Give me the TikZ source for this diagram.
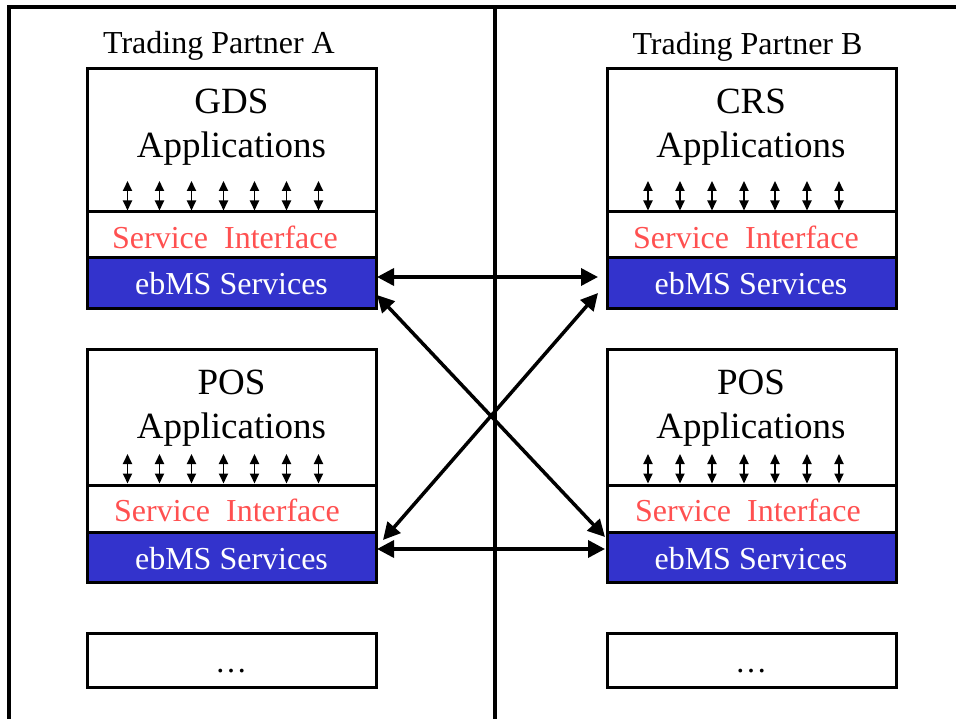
\documentclass[tikz,border=0pt]{standalone}
\usepackage{fontspec}
\setmainfont{Liberation Serif}
\usetikzlibrary{arrows.meta,calc}
\definecolor{ebblue}{RGB}{51,51,204}
\definecolor{sired}{RGB}{255,80,80}
\begin{document}
\begin{tikzpicture}[x=1pt,y=-1pt,
  box/.style={draw, line width=3pt, minimum width=289pt, inner sep=0pt, outer sep=0pt},
  ebbox/.style={box, fill=ebblue},
  frameline/.style={line width=4pt},
  bigarrow/.style={line width=3.5pt, {Triangle[length=17pt,width=17pt]}-{Triangle[length=17pt,width=17pt]}},
  smallarrow/.style={line width=1.8pt, {Triangle[length=10pt,width=9pt]}-{Triangle[length=10pt,width=9pt]}},
  titletext/.style={anchor=base, inner sep=0pt, font=\fontsize{32}{38}\selectfont},
  apptext/.style={anchor=base, inner sep=0pt, font=\fontsize{37}{44}\selectfont},
  sitext/.style={anchor=base, inner sep=0pt, text=sired, font=\fontsize{32}{38}\selectfont},
  ebtext/.style={anchor=base, inner sep=0pt, text=white, font=\fontsize{32}{38}\selectfont},
  dottext/.style={anchor=base, inner sep=0pt, font=\fontsize{32}{38}\selectfont}
]
\useasboundingbox (0,0) rectangle (956,719);

% frame
\coordinate (fbl) at (9,719);
\coordinate (ftl) at (9,7.5);
\coordinate (ftr) at (956,7.5);
\coordinate (ct) at (494.5,5.5);
\coordinate (cb) at (494.5,719);
\draw[frameline] (fbl) -- (ftl) -- (ftr);
\draw[frameline] (ct) -- (cb);

% titles
\node[titletext] (tpa) at (219,54) {Trading Partner A};
\node[titletext] (tpb) at (747.5,55) {Trading Partner B};

% ---------- Left column ----------
\node[box, minimum height=143pt] (appA) at (231.5,140.5) {};
\node[box, minimum height=46pt] (svcA) at (231.5,235) {};
\node[ebbox, minimum height=51pt] (ebA) at (231.5,283.5) {};
\node[apptext] (appAt1) at (231.5,114) {GDS};
\node[apptext] (appAt2) at (231.5,158) {Applications};
\node[sitext] (svcAt) at (225,249) {Service\ \ Interface};
\node[ebtext] (ebAt) at (231.5,295) {ebMS Services};

\node[box, minimum height=135pt] (appC) at (231.5,417.5) {};
\node[box, minimum height=47pt] (svcC) at (231.5,508.5) {};
\node[ebbox, minimum height=50pt] (ebC) at (231.5,557) {};
\node[apptext] (appCt1) at (231.5,394) {POS};
\node[apptext] (appCt2) at (231.5,438) {Applications};
\node[sitext] (svcCt) at (227,521) {Service\ \ Interface};
\node[ebtext] (ebCt) at (231.5,569) {ebMS Services};

\node[box, minimum height=54pt] (moreA) at (231.5,660) {};
\node[dottext] (moreAt) at (231,672) {…};

% ---------- Right column ----------
\node[box, minimum height=143pt] (appB) at (752,140.5) {};
\node[box, minimum height=46pt] (svcB) at (752,235) {};
\node[ebbox, minimum height=51pt] (ebB) at (752,283.5) {};
\node[apptext] (appBt1) at (751,114) {CRS};
\node[apptext] (appBt2) at (751,158) {Applications};
\node[sitext] (svcBt) at (746,249) {Service\ \ Interface};
\node[ebtext] (ebBt) at (751,295) {ebMS Services};

\node[box, minimum height=135pt] (appD) at (752,417.5) {};
\node[box, minimum height=47pt] (svcD) at (752,508.5) {};
\node[ebbox, minimum height=50pt] (ebD) at (752,557) {};
\node[apptext] (appDt1) at (751,394) {POS};
\node[apptext] (appDt2) at (751,438) {Applications};
\node[sitext] (svcDt) at (748,521) {Service\ \ Interface};
\node[ebtext] (ebDt) at (751,569) {ebMS Services};

\node[box, minimum height=54pt] (moreB) at (752,660) {};
\node[dottext] (moreBt) at (751,672) {…};

% small interface arrows
\foreach \s in {svcA,svcB,svcC,svcD}{
  \foreach \dx in {-104,-72,-40,-8,23,55,87}{
    \draw[smallarrow] ($(\s.north)+(\dx,-31)$) -- ($(\s.north)+(\dx,-1.5)$);
  }
}

% big arrows between ebMS services
\draw[bigarrow] ($(ebA.east)+(1,-6.5)$) -- ($(ebB.west)+(-9.5,-6.5)$);
\draw[bigarrow] ($(ebC.east)+(1,-8)$) -- ($(ebD.west)+(-2.5,-8)$);
\draw[bigarrow] ($(ebA.east)+(1,11.5)$) -- ($(ebD.west)+(-2.5,-20)$);
\draw[bigarrow] ($(ebB.west)+(-9.5,9.5)$) -- ($(ebC.east)+(7,-17)$);
\end{tikzpicture}
\end{document}
